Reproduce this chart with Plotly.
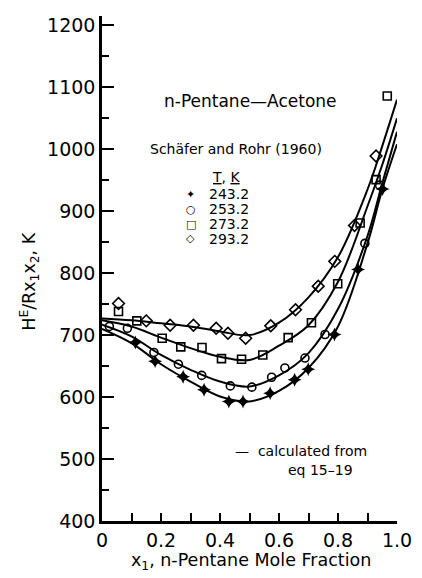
import plotly.graph_objects as go

# ---- data ----
# measured points (x1, HE/(R x1 x2) in K)
x_243 = [0.113, 0.180, 0.275, 0.346, 0.430, 0.478, 0.570, 0.653, 0.699, 0.788, 0.868, 0.951]
y_243 = [688, 658, 633, 612, 593, 593, 606, 628, 645, 701, 806, 936]

x_253 = [0.025, 0.086, 0.176, 0.259, 0.338, 0.435, 0.508, 0.575, 0.620, 0.688, 0.756, 0.891, 0.941]
y_253 = [714, 711, 672, 653, 635, 618, 616, 632, 647, 663, 701, 848, 942]

x_273 = [0.056, 0.118, 0.204, 0.267, 0.339, 0.405, 0.473, 0.545, 0.631, 0.710, 0.799, 0.875, 0.929, 0.967]
y_273 = [738, 723, 695, 681, 680, 662, 661, 668, 696, 720, 783, 881, 951, 1086]

x_293 = [0.056, 0.150, 0.231, 0.310, 0.387, 0.427, 0.487, 0.572, 0.656, 0.733, 0.789, 0.856, 0.929]
y_293 = [751, 723, 716, 716, 711, 703, 695, 715, 741, 779, 819, 877, 989]

# calculated curves read at these x1 values
x_curve = [0.0, 0.1, 0.2, 0.3, 0.4, 0.5, 0.6, 0.7, 0.8, 0.9, 0.95, 1.0]
c_243 = [710, 687, 653, 625, 601, 593, 610, 647, 714, 848, 935, 1008]
c_253 = [717, 698, 668, 644, 625, 617, 635, 671, 742, 860, 945, 1028]
c_273 = [724, 714, 696, 679, 665, 660, 683, 716, 786, 908, 975, 1050]
c_293 = [727, 724, 719, 714, 706, 700, 720, 761, 826, 935, 1005, 1080]

temps = ["243.2", "253.2", "273.2", "293.2"]
legend_glyphs = ["\u2726", "\u25CB", "\u25A1", "\u25C7"]

x_ticks = [0, 0.2, 0.4, 0.6, 0.8, 1.0]
x_ticklabels = ["0", "0.2", "0.4", "0.6", "0.8", "1.0"]
y_ticks = [400, 500, 600, 700, 800, 900, 1000, 1100, 1200]

FONT = "DejaVu Sans"
fig = go.Figure()

for yc in (c_243, c_253, c_273, c_293):
    fig.add_trace(go.Scatter(x=x_curve, y=yc, mode="lines",
                             line=dict(color="black", width=2, shape="spline", smoothing=1.0),
                             showlegend=False, hoverinfo="skip"))

fig.add_trace(go.Scatter(x=x_243, y=y_243, mode="markers",
                         marker=dict(symbol="star-diamond", size=10, color="black",
                                     line=dict(width=0)), showlegend=False))
fig.add_trace(go.Scatter(x=x_253, y=y_253, mode="markers",
                         marker=dict(symbol="circle-open", size=8, color="black",
                                     line=dict(width=1.6)), showlegend=False))
fig.add_trace(go.Scatter(x=x_273, y=y_273, mode="markers",
                         marker=dict(symbol="square-open", size=8, color="black",
                                     line=dict(width=1.6)), showlegend=False))
fig.add_trace(go.Scatter(x=x_293, y=y_293, mode="markers",
                         marker=dict(symbol="diamond-open", size=9, color="black",
                                     line=dict(width=1.6)), showlegend=False))

fig.update_layout(
    width=422, height=578,
    margin=dict(l=102, r=10, t=16, b=57),
    paper_bgcolor="white", plot_bgcolor="white",
    font=dict(family=FONT, color="black", size=14),
    xaxis=dict(range=[0, 1.0], showgrid=False, zeroline=False,
               showline=True, linecolor="black", linewidth=2.5,
               ticks="inside", ticklen=8, tickwidth=2, tickcolor="black",
               tickvals=x_ticks, ticktext=x_ticklabels,
               tickfont=dict(size=19, family=FONT), ticklabeloverflow="allow",
               minor=dict(dtick=0.1, ticks="inside", ticklen=8, tickwidth=2, tickcolor="black"),
               mirror=False),
    yaxis=dict(range=[400, 1215], showgrid=False, zeroline=False,
               showline=True, linecolor="black", linewidth=2.5,
               ticks="inside", ticklen=12, tickwidth=2, tickcolor="black",
               tickvals=y_ticks, tickfont=dict(size=19, family=FONT),
               minor=dict(dtick=50, ticks="inside", ticklen=7, tickwidth=2, tickcolor="black"),
               mirror=False),
    yaxis2=dict(range=[400, 1215], overlaying="y", side="right", showgrid=False,
                zeroline=False, showline=True, linecolor="black", linewidth=2.5,
                ticks="inside", ticklen=7, tickwidth=2, tickcolor="black",
                dtick=50, tick0=400, showticklabels=False),
)

def px_x(p):
    return (p - 102) / 310.0

def px_y(p):
    return (521 - p) / 505.0

ann = []
ann.append(dict(text="n-Pentane\u2014Acetone", x=px_x(165), y=px_y(101), xanchor="left", font=dict(size=17)))
ann.append(dict(text="Schäfer and Rohr (1960)", x=px_x(150), y=px_y(149), xanchor="left", font=dict(size=14)))
ann.append(dict(text="<u>T</u>, <u>K</u>", x=px_x(216), y=px_y(177), xanchor="left", font=dict(size=14)))
row_y = [194, 209, 224, 239]
for g, t, ry in zip(legend_glyphs, temps, row_y):
    ann.append(dict(text=g, x=px_x(195), y=px_y(ry), font=dict(size=11)))
    ann.append(dict(text=t, x=px_x(212), y=px_y(ry), xanchor="left", font=dict(size=14)))
ann.append(dict(text="\u2014  calculated from", x=px_x(240), y=px_y(451), xanchor="left", font=dict(size=14)))
ann.append(dict(text="eq 15\u201319", x=px_x(295), y=px_y(470), xanchor="left", font=dict(size=14)))
ann.append(dict(text="H<sup>E</sup>/Rx<sub>1</sub>x<sub>2</sub>, K", x=px_x(25), y=px_y(333),
                yanchor="bottom", textangle=-90, font=dict(size=17.5)))
ann.append(dict(text="x<sub>1</sub>, n-Pentane Mole Fraction", x=px_x(130), y=px_y(561),
                xanchor="left", font=dict(size=17.5)))

for a in ann:
    a.setdefault("xanchor", "center")
    a.setdefault("yanchor", "middle")
    a.update(xref="paper", yref="paper", showarrow=False)
fig.update_layout(annotations=ann)

fig.write_html("out.html", config={"displayModeBar": False},
               post_script="document.body.style.margin='0';document.body.style.padding='0';")
